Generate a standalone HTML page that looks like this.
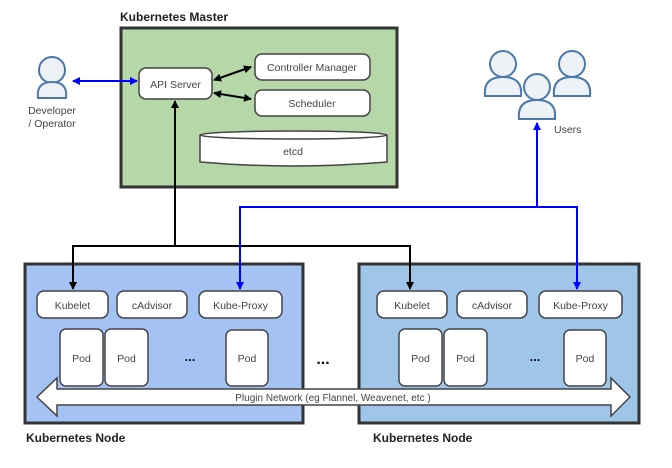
<!DOCTYPE html>
<html><head><meta charset="utf-8"><style>
body{margin:0;background:#fff;}
svg text{font-family:"Liberation Sans",sans-serif;}
</style></head><body>
<svg width="672" height="463" viewBox="0 0 672 463" xmlns="http://www.w3.org/2000/svg">
<defs>
<marker id="ab" markerWidth="8" markerHeight="8" refX="7" refY="4" orient="auto" markerUnits="userSpaceOnUse"><path d="M0,0 L8,4 L0,8 z" fill="#000"/></marker>
<marker id="ab2" markerWidth="8" markerHeight="8" refX="1" refY="4" orient="auto" markerUnits="userSpaceOnUse"><path d="M8,0 L0,4 L8,8 z" fill="#000"/></marker>
<marker id="au" markerWidth="8" markerHeight="8" refX="7" refY="4" orient="auto" markerUnits="userSpaceOnUse"><path d="M0,0 L8,4 L0,8 z" fill="#00f"/></marker>
<marker id="au2" markerWidth="8" markerHeight="8" refX="1" refY="4" orient="auto" markerUnits="userSpaceOnUse"><path d="M8,0 L0,4 L8,8 z" fill="#00f"/></marker>
</defs>
<!-- Master -->
<text x="120" y="21" font-size="12" font-weight="bold" fill="#222">Kubernetes Master</text>
<rect x="121" y="28" width="276" height="159" fill="#b6d7a8" stroke="#333" stroke-width="3"/>
<rect x="139" y="68" width="73" height="31" rx="7" fill="#fff" stroke="#444" stroke-width="1.5"/>
<text x="175.5" y="88" font-size="10.5" text-anchor="middle" fill="#444">API Server</text>
<rect x="255" y="54" width="115" height="26" rx="7" fill="#fff" stroke="#444" stroke-width="1.5"/>
<text x="312" y="71" font-size="10.5" text-anchor="middle" fill="#444">Controller Manager</text>
<rect x="255" y="90" width="115" height="26" rx="7" fill="#fff" stroke="#444" stroke-width="1.5"/>
<text x="312" y="107" font-size="10.5" text-anchor="middle" fill="#444">Scheduler</text>
<path d="M200,135 L200,162 Q293,170 387,162 L387,135" fill="#fff" stroke="#444" stroke-width="1.5"/>
<ellipse cx="293.5" cy="135" rx="93.5" ry="4" fill="#fff" stroke="#444" stroke-width="1.5"/>
<text x="293" y="155" font-size="10.5" text-anchor="middle" fill="#444">etcd</text>
<line x1="214" y1="80" x2="251" y2="67" stroke="#000" stroke-width="2" marker-start="url(#ab2)" marker-end="url(#ab)"/>
<line x1="214" y1="93" x2="251" y2="99" stroke="#000" stroke-width="2" marker-start="url(#ab2)" marker-end="url(#ab)"/>
<!-- Developer -->
<circle cx="52" cy="70" r="13" fill="#eef2f7" stroke="#4a78a8" stroke-width="2"/>
<path d="M38,98 Q36,82 52,82 Q68,82 66,98 Z" fill="#eef2f7" stroke="#4a78a8" stroke-width="2"/>
<text x="52" y="114" font-size="10.5" text-anchor="middle" fill="#444">Developer</text>
<text x="52" y="127" font-size="10.5" text-anchor="middle" fill="#444">/ Operator</text>
<line x1="73" y1="81" x2="137" y2="81" stroke="#00f" stroke-width="2" marker-start="url(#au2)" marker-end="url(#au)"/>
<!-- Users -->
<g fill="#eef2f7" stroke="#4a78a8" stroke-width="2">
<circle cx="503" cy="64" r="13"/><path d="M485,96 Q483,77 503,77 Q523,77 521,96 Z"/>
<circle cx="572" cy="64" r="13"/><path d="M554,96 Q552,77 572,77 Q592,77 590,96 Z"/>
<circle cx="537" cy="87" r="13"/><path d="M519,119 Q517,100 537,100 Q557,100 555,119 Z"/>
</g>
<text x="554" y="133" font-size="10.5" fill="#444">Users</text>
<!-- Node 1 -->
<rect x="25" y="264" width="278" height="159" fill="#a4c2f4" stroke="#333" stroke-width="3"/>
<!-- Node 2 -->
<rect x="359" y="264" width="280" height="159" fill="#9fc5e8" stroke="#333" stroke-width="3"/>
<!-- connectors -->
<polyline points="175,246 175,101" fill="none" stroke="#000" stroke-width="2" marker-end="url(#ab)"/>
<polyline points="73,246 410,246 410,289" fill="none" stroke="#000" stroke-width="2" marker-end="url(#ab)"/>
<polyline points="410,246 73,246 73,289" fill="none" stroke="#000" stroke-width="2" marker-end="url(#ab)"/>
<polyline points="537,207 537,123" fill="none" stroke="#00f" stroke-width="2" marker-end="url(#au)"/>
<polyline points="240,207 577,207 577,289" fill="none" stroke="#00f" stroke-width="2" marker-end="url(#au)"/>
<polyline points="577,207 240,207 240,289" fill="none" stroke="#00f" stroke-width="2" marker-end="url(#au)"/>
<g stroke="#444" stroke-width="1.5" fill="#fff">
<rect x="37" y="291" width="71" height="27" rx="7"/>
<rect x="117" y="291" width="70" height="27" rx="7"/>
<rect x="199" y="291" width="83" height="27" rx="7"/>
<rect x="60" y="329" width="43" height="57" rx="6"/>
<rect x="105" y="329" width="43" height="57" rx="6"/>
<rect x="226" y="330" width="42" height="56" rx="6"/>
<rect x="377" y="291" width="70" height="27" rx="7"/>
<rect x="457" y="291" width="70" height="27" rx="7"/>
<rect x="539" y="291" width="83" height="27" rx="7"/>
<rect x="399" y="329" width="43" height="57" rx="6"/>
<rect x="444" y="329" width="43" height="57" rx="6"/>
<rect x="564" y="330" width="42" height="56" rx="6"/>
</g>
<g font-size="10.5" text-anchor="middle" fill="#444">
<text x="72.5" y="309">Kubelet</text><text x="152" y="309">cAdvisor</text><text x="240.5" y="309">Kube-Proxy</text>
<text x="81.5" y="362">Pod</text><text x="126.5" y="362">Pod</text><text x="247" y="362">Pod</text>
<text x="412" y="309">Kubelet</text><text x="492" y="309">cAdvisor</text><text x="580.5" y="309">Kube-Proxy</text>
<text x="420.5" y="362">Pod</text><text x="465.5" y="362">Pod</text><text x="585" y="362">Pod</text>
</g>
<g font-size="13" font-weight="bold" text-anchor="middle" fill="#111">
<text x="190" y="361">...</text><text x="535" y="361">...</text><text x="323" y="364" font-size="16">...</text>
</g>
<!-- network arrow -->
<path d="M37,397 L57,378 L57,389 L611,389 L611,378 L630,397 L611,416 L611,405 L57,405 L57,416 Z" fill="#fff" stroke="#444" stroke-width="1.5"/>
<text x="333" y="401" font-size="10" text-anchor="middle" fill="#444">Plugin Network (eg Flannel, Weavenet, etc )</text>
<text x="26" y="442" font-size="12" font-weight="bold" fill="#222">Kubernetes Node</text>
<text x="373" y="442" font-size="12" font-weight="bold" fill="#222">Kubernetes Node</text>
</svg>
</body></html>
